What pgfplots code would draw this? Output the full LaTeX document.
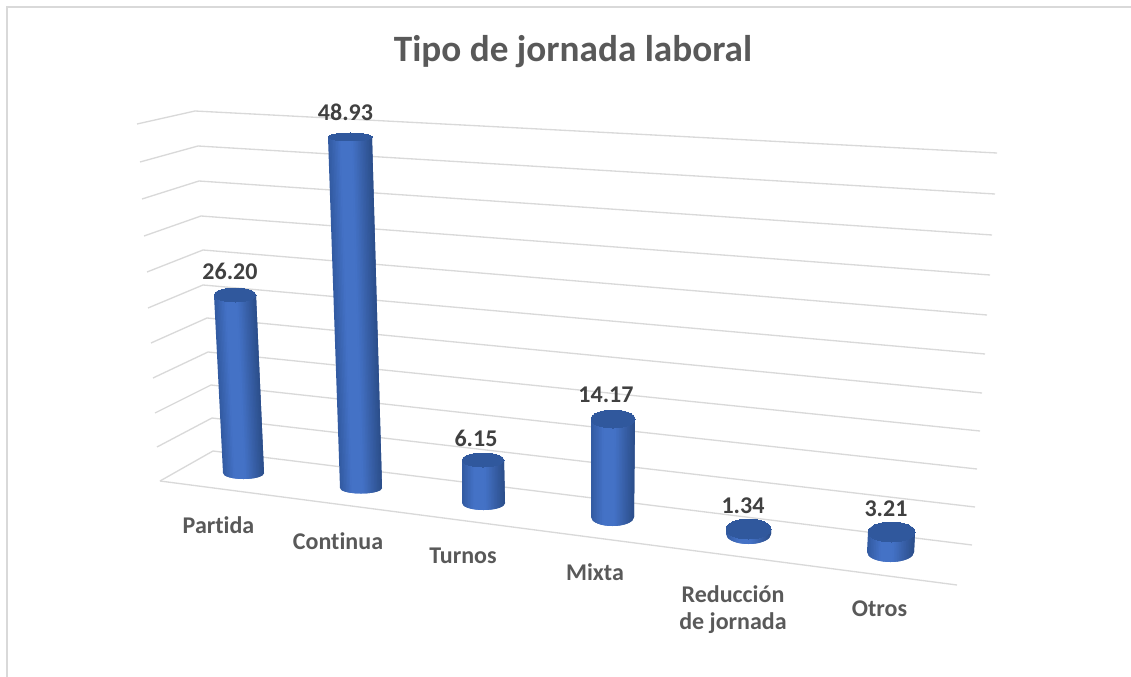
\documentclass[border=0pt]{standalone}
\usepackage{pgfplots}
\pgfplotsset{compat=1.18}
\usepackage{pgfplotstable}
\usepackage{fontspec}
\setmainfont{Carlito}[Ligatures=CommonOff]
\definecolor{gridc}{RGB}{217,217,217}
\definecolor{titlec}{RGB}{89,89,89}
\definecolor{valc}{RGB}{64,64,64}
\definecolor{topc}{RGB}{48,88,157}

% one cylinder: top centre x,y, half width, ellipse ry; base centre x,y, half width, ellipse ry
\newcommand{\cyl}[8]{%
  \pgfplotsinvokeforeach{0,...,27}{%
    \pgfmathsetmacro\ta{##1/28}%
    \pgfmathsetmacro\tb{(##1+1)/28}%
    \pgfmathsetmacro\tc{min(1,(##1+2)/28)}%
    \pgfmathsetmacro\xta{#1+#3*(2*\ta-1)}%
    \pgfmathsetmacro\xtc{#1+#3*(2*\tc-1)}%
    \pgfmathsetmacro\xba{#5+#7*(2*\ta-1)}%
    \pgfmathsetmacro\xbb{#5+#7*(2*\tb-1)}%
    \pgfmathsetmacro\xbc{#5+#7*(2*\tc-1)}%
    \pgfmathsetmacro\yba{#6+#8*sqrt(max(0,1-(2*\ta-1)^2))}%
    \pgfmathsetmacro\ybb{#6+#8*sqrt(max(0,1-(2*\tb-1)^2))}%
    \pgfmathsetmacro\ybc{#6+#8*sqrt(max(0,1-(2*\tc-1)^2))}%
    \pgfmathsetmacro\tm{(\ta+\tb)/2}%
    \pgfmathsetmacro\mixv{\tm<0.28 ? \tm/0.28 : (\tm<0.55 ? 1 : (1-\tm)/0.45)}%
    \pgfmathtruncatemacro\cr{(\tm<0.45 ? 50 : 44)+(68-(\tm<0.45 ? 50 : 44))*\mixv}%
    \pgfmathtruncatemacro\cg{(\tm<0.45 ? 90 : 78)+(114-(\tm<0.45 ? 90 : 78))*\mixv}%
    \pgfmathtruncatemacro\cb{(\tm<0.45 ? 160 : 138)+(198-(\tm<0.45 ? 160 : 138))*\mixv}%
    \edef\temp{\noexpand\addplot[draw=none,
      fill={rgb,255:red,\cr;green,\cg;blue,\cb},mark=none]
      coordinates {(\xta,#2) (\xtc,#2) (\xbc,\ybc) (\xbb,\ybb) (\xba,\yba)} --cycle;}%
    \temp
  }%
  \pgfmathsetmacro\ms{#3*0.75}%
  \pgfmathsetmacro\sc{#4/#3}%
  \edef\temp{\noexpand\addplot[only marks,mark=*,mark size=\ms pt,
     mark options={yscale=\sc,draw=topc,fill=topc,line width=0pt}] coordinates {(#1,#2)};}%
  \temp
}

\pgfplotstableread{
x y label
230 271 26.20
345.5 112.5 48.93
476 438 6.15
606 395 14.17
743 506 1.34
886 509 3.21
}\valuelabels

\pgfplotstableread{
x y label
218.5 525 Partida
338 541 Continua
463 556 Turnos
595 572 Mixta
733 594 Reducción
733 623 {de jornada}
879.5 609 Otros
}\catlabels

\begin{document}
\begin{tikzpicture}
\begin{axis}[
  scale only axis, width=848.25pt, height=507.75pt,
  xmin=0, xmax=1131, ymin=0, ymax=677, y dir=reverse,
  axis lines=none, clip=true, enlargelimits=false,
]
% full extent of the chart area
\addplot[draw=none,mark=none] coordinates {(0,0) (1131,677)};
% chart frame
\addplot[gridc,line width=1.1pt,mark=none] coordinates {(7,677) (7,7) (1131,7)};
% walls' gridlines
\addplot[gridc,line width=1pt,mark=none] coordinates {(137,124) (195,111) (997,153)};
\addplot[gridc,line width=1pt,mark=none] coordinates {(140,162) (198,146) (995,194)};
\addplot[gridc,line width=1pt,mark=none] coordinates {(142,199) (199,181) (992,235)};
\addplot[gridc,line width=1pt,mark=none] coordinates {(144,236) (201,216) (990,275)};
\addplot[gridc,line width=1pt,mark=none] coordinates {(147,272) (203,250) (987,315)};
\addplot[gridc,line width=1pt,mark=none] coordinates {(148,308) (203,285) (985,354)};
\addplot[gridc,line width=1pt,mark=none] coordinates {(151,343) (207,318) (982,393)};
\addplot[gridc,line width=1pt,mark=none] coordinates {(153,378) (208,352) (980,431)};
\addplot[gridc,line width=1pt,mark=none] coordinates {(155,413) (211,385) (977,469)};
\addplot[gridc,line width=1pt,mark=none] coordinates {(157,447) (212,418) (975,507)};
\addplot[gridc,line width=1pt,mark=none] coordinates {(160,481) (213,451) (972,545)};
\addplot[gridc,line width=1pt,mark=none] coordinates {(160,481) (957,585)};
% cylinders
\cyl{235}{295}{21}{7}{243.5}{473}{20.5}{6}
\cyl{350}{137}{22}{4}{361}{488}{21}{5.5}
\cyl{483}{460}{21}{7}{483.5}{503}{21.5}{7}
\cyl{613}{419}{22}{9}{612.5}{517}{21.5}{9}
\cyl{748.5}{529}{22.5}{10}{748.5}{534}{22.5}{10}
\cyl{891.5}{532}{23.5}{10}{890.5}{552}{23.5}{10}
% value labels
\addplot[only marks,mark=none,point meta=explicit symbolic,nodes near coords,
  nodes near coords style={anchor=center,inner sep=0pt,text=valc,font=\fontsize{18}{21}\selectfont\bfseries}]
  table[x=x,y=y,meta=label] {\valuelabels};
% category labels
\addplot[only marks,mark=none,point meta=explicit symbolic,nodes near coords,
  nodes near coords style={anchor=center,inner sep=0pt,text=titlec,font=\fontsize{18}{21}\selectfont\bfseries}]
  table[x=x,y=y,meta=label] {\catlabels};
% title
\addplot[only marks,mark=none,point meta=explicit symbolic,nodes near coords,
  nodes near coords style={anchor=center,inner sep=0pt,text=titlec,font=\fontsize{27.9}{32}\selectfont\bfseries}]
  coordinates {(573,52) [{Tipo de jornada laboral}]};
\end{axis}
\end{tikzpicture}
\end{document}
